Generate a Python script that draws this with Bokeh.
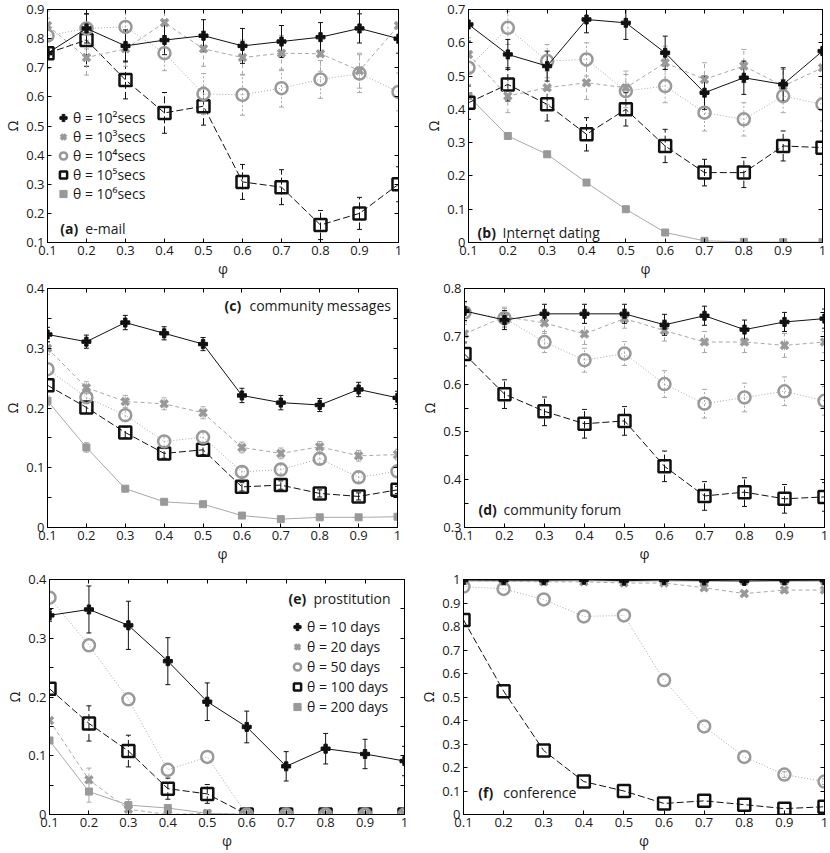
from bokeh.plotting import figure
from bokeh.models import (FixedTicker, CustomJSTickFormatter, LinearAxis, Range1d, Label,
                          Legend, LegendItem, Whisker, TeeHead, ColumnDataSource)
from bokeh.layouts import column, row
from bokeh.embed import file_html
from bokeh.resources import INLINE

# ---------------- data ----------------
phi = [0.1, 0.2, 0.3, 0.4, 0.5, 0.6, 0.7, 0.8, 0.9, 1.0]

# (a) e-mail
a_t1 = [0.75, 0.835, 0.775, 0.795, 0.81, 0.775, 0.79, 0.805, 0.835, 0.80]
a_t2 = [0.845, 0.735, 0.765, 0.855, 0.765, 0.735, 0.75, 0.748, 0.69, 0.845]
a_t3 = [0.81, 0.835, 0.84, 0.75, 0.61, 0.607, 0.63, 0.66, 0.68, 0.617]
a_t4 = [0.75, 0.795, 0.658, 0.545, 0.568, 0.308, 0.29, 0.16, 0.20, 0.30]
a_t5 = []
a_e1 = [0.05, 0.05, 0.055, 0.05, 0.055, 0.06, 0.055, 0.05, 0.05, 0.05]
a_e2 = [0.05, 0.06, 0.06, 0.05, 0.06, 0.06, 0.06, 0.06, 0.06, 0.06]
a_e3 = [0.06, 0.07, 0.07, 0.06, 0.07, 0.07, 0.065, 0.065, 0.065, 0.065]
a_e4 = [0.05, 0.09, 0.065, 0.07, 0.065, 0.06, 0.06, 0.05, 0.055, 0.06]
a_e5 = []

# (b) Internet dating
b_t1 = [0.655, 0.565, 0.53, 0.67, 0.66, 0.57, 0.45, 0.495, 0.475, 0.575]
b_t2 = [0.565, 0.44, 0.465, 0.48, 0.465, 0.54, 0.49, 0.53, 0.47, 0.525]
b_t3 = [0.525, 0.645, 0.545, 0.55, 0.455, 0.47, 0.39, 0.37, 0.44, 0.415]
b_t4 = [0.42, 0.475, 0.415, 0.325, 0.40, 0.29, 0.21, 0.21, 0.29, 0.285]
b_t5 = [0.44, 0.32, 0.265, 0.18, 0.10, 0.03, 0.005, 0.002, 0.001, 0.001]
b_e1 = [0.05, 0.045, 0.045, 0.04, 0.05, 0.05, 0.05, 0.05, 0.05, 0.05]
b_e2 = [0.05, 0.05, 0.05, 0.05, 0.05, 0.05, 0.05, 0.05, 0.05, 0.05]
b_e3 = [0.05, 0.05, 0.05, 0.05, 0.05, 0.05, 0.055, 0.05, 0.05, 0.05]
b_e4 = [0.05, 0.05, 0.05, 0.05, 0.05, 0.05, 0.04, 0.045, 0.045, 0.05]
b_e5 = [0.0, 0.0, 0.0, 0.0, 0.0, 0.0, 0.0, 0.0, 0.0, 0.0]

# (c) community messages
c_t1 = [0.323, 0.311, 0.343, 0.325, 0.307, 0.221, 0.209, 0.205, 0.231, 0.217]
c_t2 = [0.300, 0.234, 0.211, 0.207, 0.192, 0.134, 0.124, 0.135, 0.120, 0.122]
c_t3 = [0.265, 0.218, 0.188, 0.144, 0.151, 0.093, 0.097, 0.115, 0.084, 0.094]
c_t4 = [0.238, 0.201, 0.159, 0.124, 0.130, 0.068, 0.071, 0.057, 0.052, 0.063]
c_t5 = [0.212, 0.134, 0.065, 0.043, 0.039, 0.020, 0.014, 0.017, 0.017, 0.018]
c_e1 = [0.012, 0.011, 0.012, 0.011, 0.011, 0.012, 0.012, 0.011, 0.012, 0.011]
c_e2 = [0.010, 0.010, 0.010, 0.010, 0.010, 0.009, 0.009, 0.009, 0.009, 0.009]
c_e3 = [0.010, 0.010, 0.010, 0.009, 0.009, 0.008, 0.008, 0.008, 0.008, 0.008]
c_e4 = [0.010, 0.010, 0.009, 0.008, 0.008, 0.007, 0.007, 0.006, 0.006, 0.006]
c_e5 = [0.008, 0.008, 0.0, 0.0, 0.0, 0.0, 0.0, 0.0, 0.0, 0.0]

# (d) community forum
d_t1 = [0.753, 0.734, 0.747, 0.747, 0.747, 0.724, 0.743, 0.714, 0.730, 0.737]
d_t2 = [0.705, 0.741, 0.728, 0.705, 0.737, 0.712, 0.688, 0.688, 0.681, 0.688]
d_t3 = [0.750, 0.738, 0.688, 0.650, 0.664, 0.600, 0.559, 0.572, 0.585, 0.565]
d_t4 = [0.663, 0.579, 0.543, 0.517, 0.523, 0.428, 0.366, 0.374, 0.360, 0.364]
d_t5 = []
d_e1 = [0.02, 0.02, 0.02, 0.02, 0.02, 0.022, 0.02, 0.02, 0.02, 0.02]
d_e2 = [0.02, 0.02, 0.022, 0.022, 0.02, 0.022, 0.022, 0.022, 0.025, 0.022]
d_e3 = [0.02, 0.02, 0.022, 0.025, 0.025, 0.028, 0.03, 0.03, 0.03, 0.03]
d_e4 = [0.025, 0.03, 0.03, 0.03, 0.03, 0.032, 0.03, 0.03, 0.03, 0.03]
d_e5 = []

# (e) prostitution
e_t1 = [0.339, 0.349, 0.322, 0.261, 0.192, 0.149, 0.082, 0.112, 0.103, 0.091]
e_t2 = [0.160, 0.059, 0.009, 0.0, 0.002, 0.0, 0.0, 0.0, 0.0, 0.0]
e_t3 = [0.369, 0.288, 0.196, 0.076, 0.098, 0.0, 0.0, 0.0, 0.0, 0.0]
e_t4 = [0.214, 0.155, 0.108, 0.044, 0.035, 0.0, 0.0, 0.0, 0.0, 0.0]
e_t5 = [0.126, 0.039, 0.016, 0.011, 0.002, 0.0, 0.0, 0.0, 0.0, 0.0]
e_e1 = [0.01, 0.04, 0.041, 0.04, 0.032, 0.027, 0.025, 0.026, 0.025, 0.025]
e_e2 = [0.0, 0.02, 0.01, 0.0, 0.0, 0.0, 0.0, 0.0, 0.0, 0.0]
e_e3 = [0.0, 0.0, 0.0, 0.0, 0.0, 0.0, 0.0, 0.0, 0.0, 0.0]
e_e4 = [0.0, 0.03, 0.027, 0.018, 0.016, 0.0, 0.0, 0.0, 0.0, 0.0]
e_e5 = [0.0, 0.018, 0.01, 0.0, 0.0, 0.0, 0.0, 0.0, 0.0, 0.0]

# (f) conference
f_t1 = [0.998, 0.997, 0.997, 0.999, 0.995, 0.998, 0.996, 0.994, 0.996, 0.997]
f_t2 = [0.995, 0.993, 0.990, 0.990, 0.985, 0.985, 0.965, 0.940, 0.955, 0.955]
f_t3 = [0.970, 0.960, 0.915, 0.843, 0.847, 0.572, 0.375, 0.245, 0.170, 0.140]
f_t4 = [0.828, 0.525, 0.272, 0.140, 0.100, 0.047, 0.058, 0.042, 0.025, 0.033]
f_t5 = [0.994, 0.993, 0.994, 0.995, 0.993, 0.994, 0.993, 0.993, 0.993, 0.993]
f_e1 = [0.0, 0.0, 0.0, 0.0, 0.0, 0.0, 0.0, 0.0, 0.0, 0.0]
f_e2 = [0.0, 0.0, 0.0, 0.0, 0.0, 0.0, 0.01, 0.01, 0.01, 0.01]
f_e3 = [0.0, 0.0, 0.0, 0.0, 0.0, 0.0, 0.0, 0.0, 0.012, 0.012]
f_e4 = [0.0, 0.0, 0.0, 0.0, 0.0, 0.0, 0.0, 0.0, 0.0, 0.0]
f_e5 = [0.0, 0.0, 0.0, 0.0, 0.0, 0.0, 0.0, 0.0, 0.0, 0.0]

secs_labels = ["θ = 10²secs", "θ = 10³secs", "θ = 10⁴secs", "θ = 10⁵secs", "θ = 10⁶secs"]
days_labels = ["θ = 10 days", "θ = 20 days", "θ = 50 days", "θ = 100 days", "θ = 200 days"]

ticks_x = [0.1, 0.2, 0.3, 0.4, 0.5, 0.6, 0.7, 0.8, 0.9, 1.0]
ticks_a = [0.1, 0.2, 0.3, 0.4, 0.5, 0.6, 0.7, 0.8, 0.9]
ticks_b = [0.0, 0.1, 0.2, 0.3, 0.4, 0.5, 0.6, 0.7]
ticks_c = [0.0, 0.1, 0.2, 0.3, 0.4]
minor_c = [0.05, 0.15, 0.25, 0.35]
ticks_d = [0.3, 0.4, 0.5, 0.6, 0.7, 0.8]
minor_d = [0.35, 0.45, 0.55, 0.65, 0.75]
ticks_f = [0.0, 0.1, 0.2, 0.3, 0.4, 0.5, 0.6, 0.7, 0.8, 0.9, 1.0]

# ---------------- styles ----------------
FONT = "Open Sans"
BLACK = "#111111"
GRAY = "#999999"
GRAY_L = "#a8a8a8"
STYLES = [
    dict(marker="plus", size=9, color=BLACK, fill=BLACK, dash="solid", lcolor=BLACK, mlw=1),
    dict(marker="x", size=10, color=GRAY, fill=None, dash="4 3", lcolor=GRAY_L, mlw=3.5),
    dict(marker="circle", size=12, color=GRAY, fill=None, dash="1 2", lcolor=GRAY_L, mlw=2.5),
    dict(marker="square", size=12, color=BLACK, fill=None, dash="7 3", lcolor=BLACK, mlw=2.5),
    dict(marker="square", size=7, color=GRAY, fill=GRAY, dash="solid", lcolor=GRAY_L, mlw=1),
]

fmt = CustomJSTickFormatter(code="return (Math.round(tick*100)/100).toString();")
blank = CustomJSTickFormatter(code="return '';")


def panel(width, height, yr, yticks, yminor, series, errs, bold, text, lab_xy,
          legend_labels=None, legend_loc=None, legend_spacing=0, borders=(0, 0, 0, 0)):
    bl, br, bt, bb = borders
    p = figure(width=width, height=height, x_range=Range1d(0.1, 1.0), y_range=Range1d(*yr),
               output_backend="svg", toolbar_location=None,
               min_border_left=bl, min_border_right=br, min_border_top=bt, min_border_bottom=bb)
    p.grid.visible = False
    p.outline_line_color = "black"
    p.outline_line_width = 1
    p.background_fill_color = "white"
    p.border_fill_color = "white"

    xa = p.xaxis[0]
    ya = p.yaxis[0]
    xa.ticker = FixedTicker(ticks=ticks_x)
    ya.ticker = FixedTicker(ticks=yticks, minor_ticks=yminor)
    for ax in (xa, ya):
        ax.formatter = fmt
        ax.major_tick_in = 4
        ax.major_tick_out = 0
        ax.minor_tick_in = 4
        ax.minor_tick_out = 0
        ax.major_label_text_font = FONT
        ax.major_label_text_font_size = "13px"
        ax.major_label_text_color = "#1a1a1a"
        ax.axis_label_text_font = FONT
        ax.axis_label_text_font_size = "14px"
        ax.axis_label_text_font_style = "normal"
        ax.axis_label_text_color = "#1a1a1a"
        ax.axis_line_color = "black"
        ax.major_tick_line_color = "black"
        ax.minor_tick_line_color = "black"
        ax.major_label_standoff = 3
        ax.axis_label_standoff = 1
    xa.axis_label = "φ"
    ya.axis_label = "Ω"

    # mirrored axes (inward ticks only, no labels)
    for loc, tk in (("right", FixedTicker(ticks=yticks, minor_ticks=yminor)),
                    ("above", FixedTicker(ticks=ticks_x))):
        ax = LinearAxis(ticker=tk, formatter=blank, major_label_text_font_size="1px",
                        major_label_standoff=0,
                        major_tick_in=4, major_tick_out=0, minor_tick_in=4, minor_tick_out=0,
                        axis_line_color="black", major_tick_line_color="black",
                        minor_tick_line_color="black")
        p.add_layout(ax, loc)

    rmap = {}
    for i in [4, 3, 2, 1, 0]:
        ys = series[i]
        es = errs[i]
        st = STYLES[i]
        if len(ys):
            xs = phi[:len(ys)]
            src = ColumnDataSource(dict(x=xs, y=ys))
            keep = [k for k, e in enumerate(es) if e > 0]
            if keep:
                wsrc = ColumnDataSource(dict(x=[xs[k] for k in keep],
                                             lo=[ys[k] - es[k] for k in keep],
                                             hi=[ys[k] + es[k] for k in keep]))
                w = Whisker(source=wsrc, base="x", lower="lo", upper="hi", dimension="height",
                            line_color=st["lcolor"], line_width=1,
                            line_dash=st["dash"] if i != 2 else "2 2",
                            upper_head=TeeHead(size=5, line_color=st["lcolor"], line_width=1),
                            lower_head=TeeHead(size=5, line_color=st["lcolor"], line_width=1))
                p.add_layout(w)
            p.line("x", "y", source=src, line_color=st["lcolor"], line_width=1,
                   line_dash=st["dash"])
        else:
            # placeholder so the legend can still show this series' marker
            src = ColumnDataSource(dict(x=[float("nan")], y=[float("nan")]))
        r = p.scatter("x", "y", source=src, marker=st["marker"], size=st["size"],
                      line_color=st["color"], fill_color=st["fill"], line_width=st["mlw"])
        rmap[i] = r

    # panel label
    p.add_layout(Label(x=lab_xy[0], y=lab_xy[1], text=bold, text_font=FONT,
                       text_font_style="bold", text_font_size="14px", text_color="#1a1a1a",
                       text_baseline="middle", text_align="left"))
    p.add_layout(Label(x=lab_xy[0], y=lab_xy[1], x_offset=25, text=text, text_font=FONT,
                       text_font_size="14px", text_color="#1a1a1a",
                       text_baseline="middle", text_align="left"))

    if legend_labels:
        items = [LegendItem(label=legend_labels[i], renderers=[rmap[i]]) for i in range(5)]
        lg = Legend(items=items, location=legend_loc, background_fill_alpha=0,
                    border_line_alpha=0, padding=0, margin=0, spacing=legend_spacing,
                    label_height=19, glyph_height=19, glyph_width=18, label_standoff=1,
                    label_text_font=FONT, label_text_font_size="14px",
                    label_text_color="#1a1a1a")
        p.add_layout(lg)
    return p


pa = panel(415, 280, (0.1, 0.9), ticks_a, [], [a_t1, a_t2, a_t3, a_t4, a_t5],
           [a_e1, a_e2, a_e3, a_e4, a_e5], "(a)", "e-mail", (0.133, 0.148),
           secs_labels, (7, 39), 0, borders=(42, 17, 9, 37))
pb = panel(415, 280, (0.0, 0.7), ticks_b, [], [b_t1, b_t2, b_t3, b_t4, b_t5],
           [b_e1, b_e2, b_e3, b_e4, b_e5], "(b)", "Internet dating", (0.123, 0.03),
           borders=(53, 8, 8, 38))
pc = panel(415, 287, (0.0, 0.4), ticks_c, minor_c, [c_t1, c_t2, c_t3, c_t4, c_t5],
           [c_e1, c_e2, c_e3, c_e4, c_e5], "(c)", "community messages", (0.555, 0.372),
           borders=(43, 18, 8, 40))
pd = panel(415, 287, (0.3, 0.8), ticks_d, minor_d, [d_t1, d_t2, d_t3, d_t4, d_t5],
           [d_e1, d_e2, d_e3, d_e4, d_e5], "(d)", "community forum", (0.135, 0.337),
           borders=(49, 6, 7, 40))
pe = panel(415, 285, (0.0, 0.4), ticks_c, minor_c, [e_t1, e_t2, e_t3, e_t4, e_t5],
           [e_e1, e_e2, e_e3, e_e4, e_e5], "(e)", "prostitution", (0.706, 0.368),
           days_labels, (239, 98), 1, borders=(49, 11, 12, 34))
pf = panel(415, 285, (0.0, 1.0), ticks_f, [], [f_t1, f_t2, f_t3, f_t4, f_t5],
           [f_e1, f_e2, f_e3, f_e4, f_e5], "(f)", "conference", (0.137, 0.092),
           borders=(48, 6, 11, 35))

layout = column(row(pa, pb), row(pc, pd), row(pe, pf))
open("out.html", "w").write(file_html(layout, INLINE))
